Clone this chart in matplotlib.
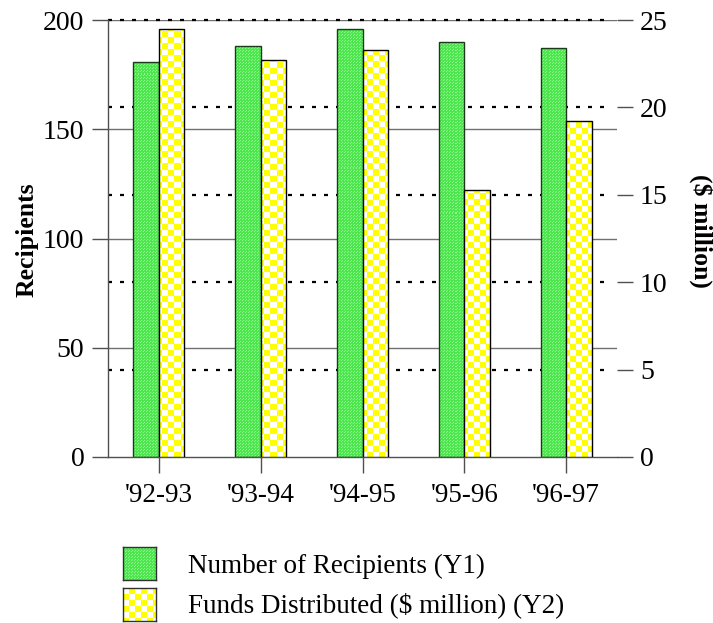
import numpy as np
import matplotlib
matplotlib.use("Agg")
import matplotlib.pyplot as plt

# Fiscal years and values
years = ["'92-93", "'93-94", "'94-95", "'95-96", "'96-97"]
recipients = [181, 188, 196, 190, 187]
funds = [24.5, 22.7, 23.3, 15.3, 19.2]

left_ticks = [0, 50, 100, 150, 200]
right_ticks = [0, 5, 10, 15, 20, 25]

W, H = 713, 623
fig = plt.figure(figsize=(W / 100, H / 100), dpi=100)
plt.rcParams['font.family'] = ['Liberation Serif', 'DejaVu Serif']

x0, x1 = 108, 617
y0, y1 = 20, 457
ax = fig.add_axes([x0 / W, 1 - y1 / H, (x1 - x0) / W, (y1 - y0) / H])
ax2 = ax.twinx()

ax.set_xlim(-0.5, len(years) - 0.5)
ax.set_ylim(0, 200)
ax2.set_ylim(0, 25)

# pixel textures for the bar fills
apx_w, apx_h = x1 - x0, y1 - y0
ii, jj = np.mgrid[0:apx_h, 0:apx_w]
cell = 6
chk = ((ii // cell + jj // cell) % 2).astype(bool)
yellow_tex = np.ones((apx_h, apx_w, 3))
yellow_tex[chk] = [1.0, 1.0, 0.0]
green_tex = np.zeros((apx_h, apx_w, 3))
dots = ((ii % 3 == 0) & (jj % 3 == 0)) | ((ii % 3 == 1) & (jj % 3 == 2))
green_tex[:] = np.array([78, 230, 78]) / 255
green_tex[dots] = np.array([140, 248, 140]) / 255

# solid grid lines from the left axis
for v in left_ticks[1:]:
    ax.axhline(v, color='#707070', lw=1.0, zorder=0.5)

# dotted grid lines from the right axis
for v in right_ticks[1:]:
    ax.plot([-0.5, len(years) - 0.55], [v, v], transform=ax2.transData,
            color='black', lw=1.6, linestyle=(0, (1.8, 3.6)), zorder=0.6,
            clip_on=False)

xs = np.arange(len(years))
bw = 0.25
gbars = ax.bar(xs - bw, recipients, width=bw, align='edge',
               facecolor='none', edgecolor='#1a3a1a', lw=1.0, zorder=3)
for b in gbars:
    im = ax.imshow(green_tex, extent=(-0.5, len(years) - 0.5, 0, 200),
                   aspect='auto', interpolation='nearest', zorder=2)
    im.set_clip_path(b)

ybars = ax2.bar(xs, funds, width=bw, align='edge',
                facecolor='none', edgecolor='black', lw=1.0, zorder=3)
for b in ybars:
    im = ax2.imshow(yellow_tex, extent=(-0.5, len(years) - 0.5, 0, 25),
                    aspect='auto', interpolation='nearest', zorder=2)
    im.set_clip_path(b)

ax.set_xlim(-0.5, len(years) - 0.5)
ax.set_ylim(0, 200)
ax2.set_ylim(0, 25)

for a in (ax, ax2):
    for s in ('top', 'right'):
        a.spines[s].set_visible(False)
ax2.spines['left'].set_visible(False)
ax2.spines['bottom'].set_visible(False)
ax.spines['left'].set_color('#505050')
ax.spines['bottom'].set_color('#505050')
ax.spines['left'].set_linewidth(1.0)
ax.spines['bottom'].set_linewidth(1.0)

ax.set_yticks(left_ticks)
ax.set_yticklabels([str(v) for v in left_ticks])
ax2.set_yticks(right_ticks)
ax2.set_yticklabels([str(v) for v in right_ticks])
ax.set_xticks(xs)
ax.set_xticklabels(years)
ax.set_xticks(np.arange(len(years)) + 0.5, minor=True)

ax.tick_params(axis='y', direction='out', length=11.5, width=1.0,
               color='#505050', labelsize=20, pad=5.5)
ax2.tick_params(axis='y', direction='out', length=11.5, width=1.0,
                color='#505050', labelsize=20, pad=5)
ax.tick_params(axis='x', which='major', direction='out', length=11.5,
               width=1.0, color='#505050', labelsize=19.5, pad=7)
ax.tick_params(axis='x', which='minor', direction='out', length=1.0,
               width=1.5, color='black')

fig.text(27 / W, 1 - 240 / H, 'Recipients', rotation=90, ha='center',
         va='center', fontsize=18.5, fontweight='bold')
fig.text(701 / W, 1 - 231 / H, '($ million)', rotation=270, ha='center',
         va='center', fontsize=18.5, fontweight='bold')

# legend
legend_items = [("Number of Recipients (Y1)", green_tex, '#303030', 547, 566),
                ("Funds Distributed ($ million) (Y2)", yellow_tex, '#303030', 588, 605)]
for label, tex, ec, top, ty in legend_items:
    sw = fig.add_axes([123 / W, 1 - (top + 33) / H, 33 / W, 33 / H])
    sw.imshow(tex[:33, :33], aspect='auto', interpolation='nearest')
    sw.set_xticks([])
    sw.set_yticks([])
    for s in sw.spines.values():
        s.set_color(ec)
        s.set_linewidth(1.0)
    fig.text(188 / W, 1 - ty / H, label, ha='left', va='center', fontsize=19.5)

fig.savefig('out.png', dpi=100)
